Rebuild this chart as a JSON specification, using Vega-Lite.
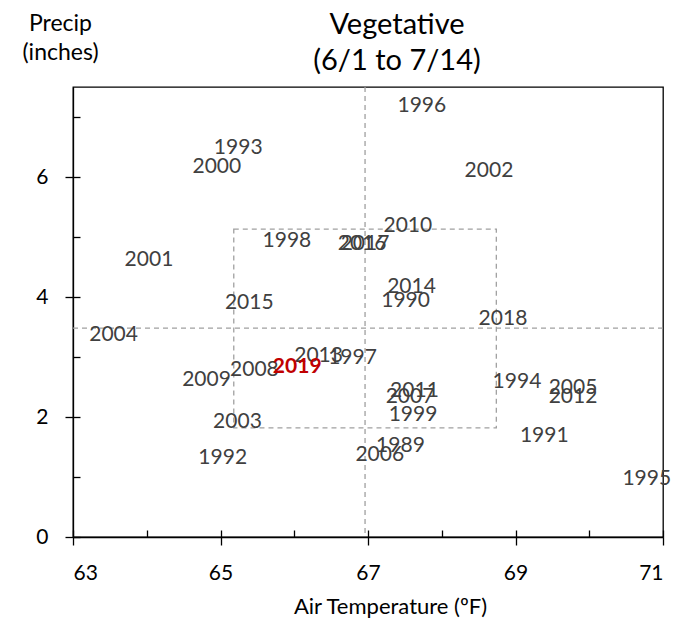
{
  "$schema": "https://vega.github.io/schema/vega-lite/v6.json",
  "width": 590,
  "height": 450,
  "autosize": {"type": "none"},
  "padding": {"left": 73, "top": 87, "right": 12, "bottom": 84},
  "config": {
    "font": "Lato",
    "view": {"stroke": "black", "strokeWidth": 1.3},
    "axis": {"grid": false}
  },
  "title": {
    "text": ["Vegetative", "(6/1 to 7/14)"],
    "font": "Lato",
    "fontSize": 29,
    "fontWeight": "normal",
    "color": "black",
    "anchor": "middle",
    "frame": "group",
    "dx": 29,
    "offset": -64,
    "lineHeight": 36
  },
  "datasets": {
    "years": [
      {"year": 1989, "temp": 67.44, "precip": 1.52},
      {"year": 1990, "temp": 67.51, "precip": 3.94},
      {"year": 1991, "temp": 69.39, "precip": 1.68},
      {"year": 1992, "temp": 65.03, "precip": 1.31},
      {"year": 1993, "temp": 65.24, "precip": 6.49},
      {"year": 1994, "temp": 69.02, "precip": 2.59},
      {"year": 1995, "temp": 70.78, "precip": 0.96},
      {"year": 1996, "temp": 67.73, "precip": 7.18},
      {"year": 1997, "temp": 66.79, "precip": 2.99},
      {"year": 1998, "temp": 65.9, "precip": 4.94},
      {"year": 1999, "temp": 67.61, "precip": 2.04},
      {"year": 2000, "temp": 64.95, "precip": 6.17},
      {"year": 2001, "temp": 64.03, "precip": 4.61},
      {"year": 2002, "temp": 68.64, "precip": 6.1},
      {"year": 2003, "temp": 65.23, "precip": 1.91},
      {"year": 2004, "temp": 63.55, "precip": 3.37},
      {"year": 2005, "temp": 69.78, "precip": 2.49},
      {"year": 2006, "temp": 67.16, "precip": 1.37},
      {"year": 2007, "temp": 67.57, "precip": 2.33},
      {"year": 2008, "temp": 65.46, "precip": 2.79},
      {"year": 2009, "temp": 64.81, "precip": 2.61},
      {"year": 2010, "temp": 67.54, "precip": 5.19},
      {"year": 2011, "temp": 67.63, "precip": 2.44},
      {"year": 2012, "temp": 69.78, "precip": 2.33},
      {"year": 2013, "temp": 66.33, "precip": 3.02},
      {"year": 2014, "temp": 67.59, "precip": 4.16},
      {"year": 2015, "temp": 65.39, "precip": 3.9},
      {"year": 2016, "temp": 66.92, "precip": 4.89},
      {"year": 2017, "temp": 66.96, "precip": 4.89},
      {"year": 2018, "temp": 68.83, "precip": 3.63},
      {"year": 2019, "temp": 66.04, "precip": 2.83}
    ],
    "band": [{"tempLow": 65.18, "tempHigh": 68.74, "precipLow": 1.82, "precipHigh": 5.13}],
    "meanTemp": [{"temp": 66.96}],
    "meanPrecip": [{"precip": 3.48}]
  },
  "resolve": {"axis": {"x": "independent", "y": "independent"}},
  "layer": [
    {
      "data": {"name": "band"},
      "mark": {"type": "rect", "fillOpacity": 0, "stroke": "#A0A0A0", "strokeWidth": 1.3, "strokeDash": [5, 4]},
      "encoding": {
        "x": {"field": "tempLow", "type": "quantitative", "scale": {"domain": [63, 71], "nice": false, "zero": false},
          "axis": {"orient": "bottom", "values": [63, 64, 65, 66, 67, 68, 69, 70, 71], "tickSize": -7, "tickColor": "black", "tickWidth": 1.3, "labels": false, "domain": false, "title": null}},
        "x2": {"field": "tempHigh"},
        "y": {"field": "precipLow", "type": "quantitative", "scale": {"domain": [0, 7.5], "nice": false},
          "axis": {"orient": "left", "values": [0, 1, 2, 3, 4, 5, 6, 7], "tickSize": -7, "tickColor": "black", "tickWidth": 1.3, "labels": false, "domain": false, "title": null}},
        "y2": {"field": "precipHigh"}
      }
    },
    {
      "data": {"name": "meanTemp"},
      "mark": {"type": "rule", "stroke": "#A0A0A0", "strokeWidth": 1.3, "strokeDash": [5, 4]},
      "encoding": {
        "x": {"field": "temp", "type": "quantitative", "scale": {"domain": [63, 71], "nice": false, "zero": false}, "axis": null}
      }
    },
    {
      "data": {"name": "meanPrecip"},
      "mark": {"type": "rule", "stroke": "#A0A0A0", "strokeWidth": 1.3, "strokeDash": [5, 4]},
      "encoding": {
        "y": {"field": "precip", "type": "quantitative", "scale": {"domain": [0, 7.5], "nice": false}, "axis": null}
      }
    },
    {
      "data": {"name": "years"},
      "transform": [{"filter": "datum.year != 2019"}],
      "mark": {"type": "text", "font": "Lato", "fontSize": 21, "color": "#404040", "align": "center", "baseline": "middle"},
      "encoding": {
        "x": {"field": "temp", "type": "quantitative", "scale": {"domain": [63, 71], "nice": false, "zero": false},
          "axis": {"orient": "bottom", "values": [63, 65, 67, 69, 71], "tickSize": 8, "tickColor": "black", "tickWidth": 1.3, "domainColor": "black", "domainWidth": 1.3,
            "labelFont": "Lato", "labelFontSize": 21, "labelColor": "black", "labelPadding": 17,
            "title": "Air Temperature (ºF)", "titleFont": "Lato", "titleFontSize": 22, "titleFontWeight": "normal", "titleColor": "black",
            "titleX": 317, "titleY": 76, "titleAlign": "center", "titleBaseline": "alphabetic"}},
        "y": {"field": "precip", "type": "quantitative", "scale": {"domain": [0, 7.5], "nice": false},
          "axis": {"orient": "left", "values": [0, 2, 4, 6], "tickSize": 8, "tickColor": "black", "tickWidth": 1.3, "domainColor": "black", "domainWidth": 1.3,
            "labelFont": "Lato", "labelFontSize": 21, "labelColor": "black", "labelPadding": 17,
            "title": ["Precip", "(inches)"], "titleFont": "Lato", "titleFontSize": 23, "titleFontWeight": "normal", "titleColor": "black",
            "titleAngle": 0, "titleX": -13, "titleY": -57, "titleAlign": "center", "titleBaseline": "alphabetic", "titleLineHeight": 29}},
        "text": {"field": "year", "type": "nominal"}
      }
    },
    {
      "data": {"name": "years"},
      "transform": [{"filter": "datum.year == 2019"}],
      "mark": {"type": "text", "font": "Lato", "fontSize": 21, "fontWeight": "bold", "color": "#C00000", "align": "center", "baseline": "middle"},
      "encoding": {
        "x": {"field": "temp", "type": "quantitative", "scale": {"domain": [63, 71], "nice": false, "zero": false}, "axis": null},
        "y": {"field": "precip", "type": "quantitative", "scale": {"domain": [0, 7.5], "nice": false}, "axis": null},
        "text": {"field": "year", "type": "nominal"}
      }
    }
  ]
}
